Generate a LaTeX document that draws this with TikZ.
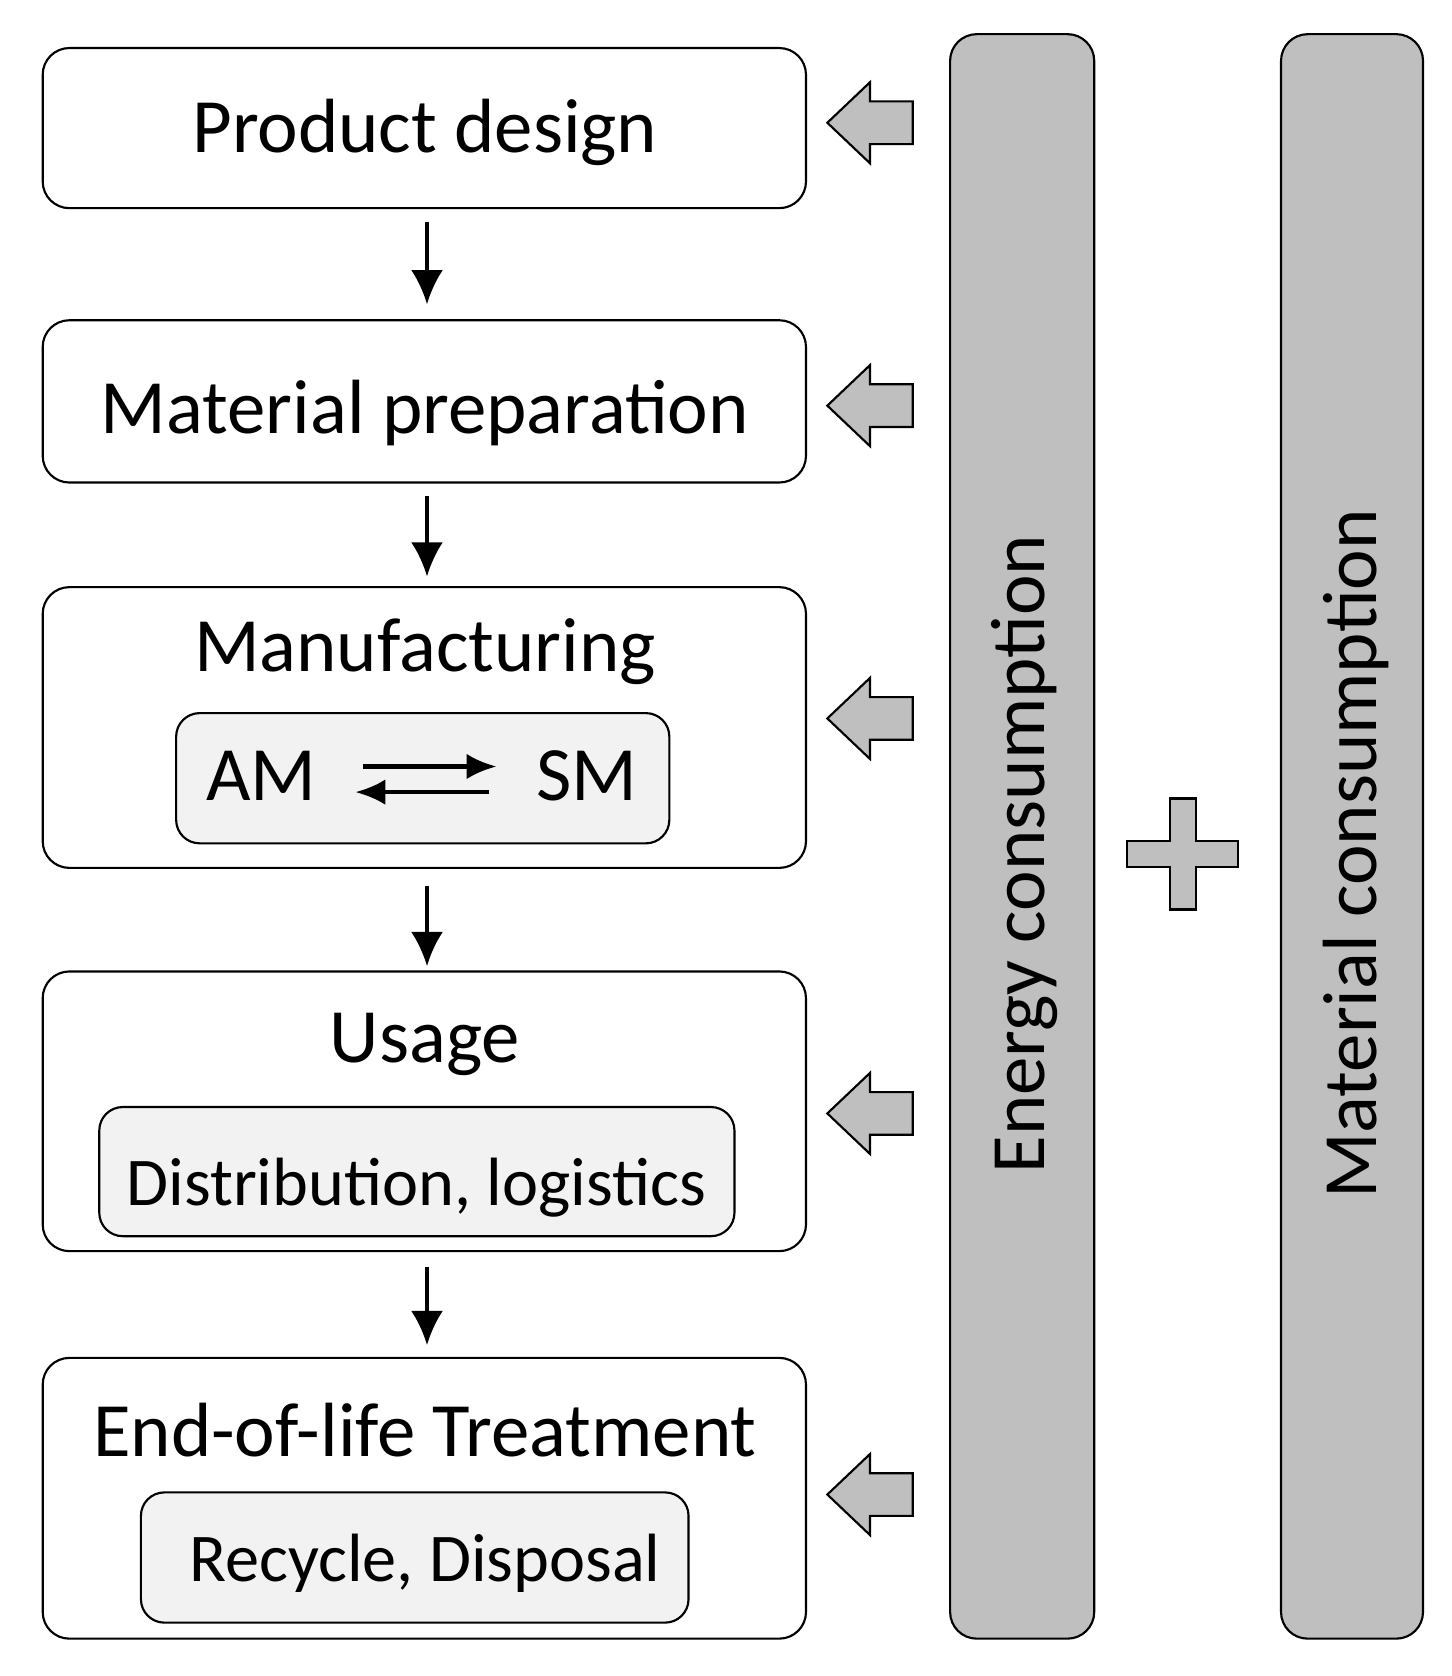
\documentclass[tikz,border=0pt]{standalone}
\usepackage{fontspec}
\setmainfont{Carlito}
\usetikzlibrary{arrows.meta}
\begin{document}
\begin{tikzpicture}[x=1pt,y=-1pt,
  box/.style={draw,line width=2pt,rounded corners=25pt,fill=white},
  inner/.style={draw,line width=2pt,rounded corners=22pt,fill=black!5},
  bar/.style={draw,line width=2pt,rounded corners=25pt,fill=black!25},
  fat/.style={draw,line width=2pt,fill=black!25},
  dn/.style={-{Latex[length=32pt,width=30pt]},line width=3.5pt},
  txt/.style={font=\fontsize{72}{80}\selectfont,inner sep=0pt,anchor=base},
  itxt/.style={font=\fontsize{64}{72}\selectfont,inner sep=0pt,anchor=base}]
\useasboundingbox (0,0) rectangle (1360,1570);
% boxes
\draw[box] (40,45) rectangle (755,195);
\draw[box] (40,300) rectangle (755,452);
\draw[box] (40,550) rectangle (755,813);
\draw[box] (40,910) rectangle (755,1172);
\draw[box] (40,1272) rectangle (755,1535);
\draw[inner] (165,668) rectangle (627,790);
\draw[inner] (93,1037) rectangle (688,1158);
\draw[inner] (132,1398) rectangle (645,1520);
\node[txt] (pd) at (398,143) {Product design};
\node[txt] (mp) at (398,406) {Material preparation};
\node[txt] (mf) at (398,629) {Manufacturing};
\node[txt] (am) at (245,750) {AM};
\node[txt] (sm) at (550,750) {SM};
\node[txt] (us) at (398,995) {Usage};
\node[itxt] (dl) at (390,1129) {Distribution, logistics};
\node[txt] (eol) at (398,1364) {End-of-life Treatment};
\node[itxt] (rd) at (398,1481) {Recycle, Disposal};
% AM SM arrows
\coordinate (a1) at (340,718); \coordinate (a2) at (465,718);
\coordinate (b1) at (458,742); \coordinate (b2) at (333,742);
\draw[-{Latex[length=28pt,width=24pt]},line width=4pt] (a1) -- (a2);
\draw[-{Latex[length=28pt,width=24pt]},line width=4pt] (b1) -- (b2);
% down arrows
\foreach \s/\e/\n in {208/285/1,465/540/2,830/905/3,1187/1260/4}{
  \coordinate (s\n) at (400,\s); \coordinate (e\n) at (400,\e);
  \draw[dn] (s\n) -- (e\n);}
% bars
\draw[bar] (890,32) rectangle (1025,1535);
\draw[bar] (1200,32) rectangle (1333,1535);
\node[txt,anchor=center,rotate=90] (ec) at (960,800) {Energy consumption};
\node[txt,anchor=center,rotate=90] (mc) at (1270,800) {Material consumption};
% fat arrows
\foreach \y in {115,380,673,1043,1400}{
  \draw[fat] (775,\y) -- (815,\y-38) -- (815,\y-20) -- (855,\y-20) -- (855,\y+20) -- (815,\y+20) -- (815,\y+38) -- cycle;}
% plus
\draw[fat] (1096,748) -- (1120,748) -- (1120,788) -- (1160,788) -- (1160,812) -- (1120,812) -- (1120,852) -- (1096,852) -- (1096,812) -- (1056,812) -- (1056,788) -- (1096,788) -- cycle;
\end{tikzpicture}
\end{document}
